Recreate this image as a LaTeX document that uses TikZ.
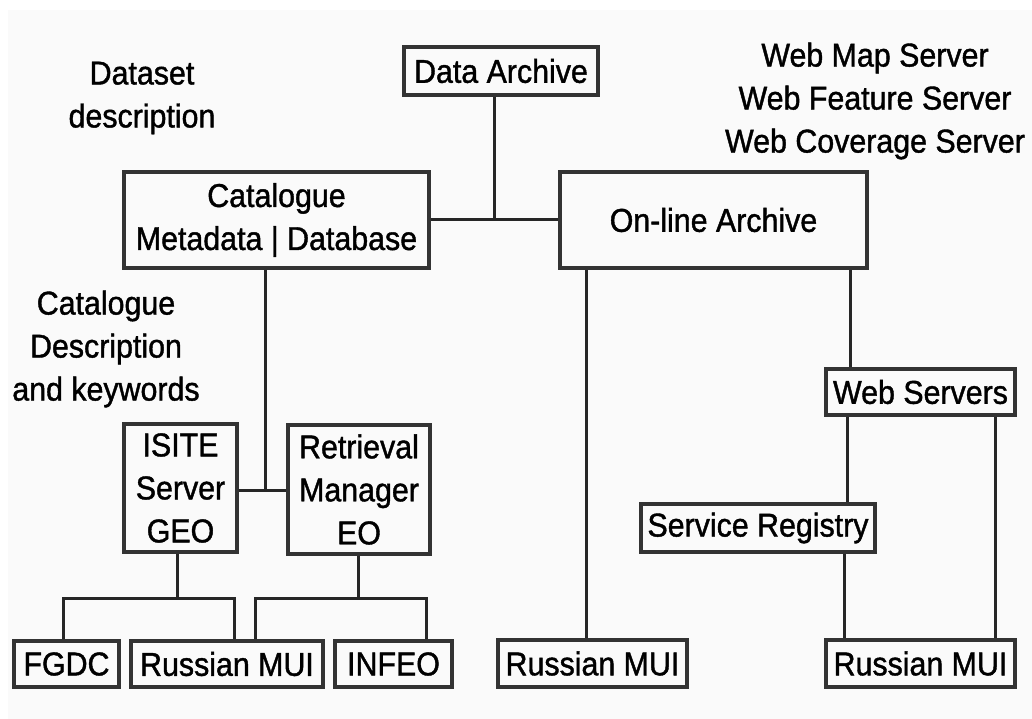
\documentclass[tikz,border=0pt]{standalone}
\usepackage{fontspec}
\setmainfont{Liberation Sans}[FakeStretch=0.92, FakeBold=1.2]
\newcommand\lbl{\fontsize{33}{43}\selectfont}
\tikzset{
  box/.style={draw=black!80, line width=3.5pt, inner sep=0pt, align=center, font=\lbl},
  lab/.style={inner sep=0pt, align=center, font=\lbl},
  conn/.style={draw=black!85, line width=3pt}
}
\begin{document}
\begin{tikzpicture}[x=1pt,y=-1pt]
\useasboundingbox (0,0) rectangle (1032,719);
\fill[white] (0,0) rectangle (1032,719);
\fill[black!2] (8,10) rectangle (1032,719);

% labels
\node[lab] (ds) at (142,98) {Dataset\\description};
\node[lab] (cd) at (106,349) {Catalogue\\Description\\and keywords};
\node[lab] (web) at (875,101) {Web Map Server\\Web Feature Server\\Web Coverage Server};

% boxes
\node[box, minimum width=194, minimum height=48] (da) at (501,71) {Data Archive};
\node[box, minimum width=305, minimum height=96] (cat) at (276.5,220) {Catalogue\\Metadata | Database};
\node[box, minimum width=307, minimum height=96] (ola) at (713.5,220) {On-line Archive};
\node[box, minimum width=113, minimum height=128] (isite) at (180.5,488) {ISITE\\Server\\GEO};
\node[box, minimum width=142, minimum height=129] (ret) at (359,489.5) {Retrieval\\Manager\\EO};
\node[box, minimum width=105, minimum height=46] (fgdc) at (66.5,664) {FGDC};
\node[box, minimum width=192, minimum height=46] (rm1) at (227,664) {Russian MUI};
\node[box, minimum width=117, minimum height=46] (infeo) at (393.5,664) {INFEO};
\node[box, minimum width=189, minimum height=47] (rm2) at (592.5,663.5) {Russian MUI};
\node[box, minimum width=189, minimum height=46] (ws) at (920.5,392) {Web Servers};
\node[box, minimum width=234, minimum height=48] (sr) at (758,528) {Service Registry};
\node[box, minimum width=189, minimum height=47] (rm3) at (920.5,663.5) {Russian MUI};

% junction coordinates
\coordinate (j1) at (494,220);
\coordinate (j2) at (265,490);
\coordinate (b1) at (177,598);
\coordinate (b2) at (358,598);

% connectors
\draw[conn] (cat.east) -- (ola.west);
\draw[conn] (da.south -| j1) -- (j1);
\draw[conn] (cat.south -| j2) -- (j2);
\draw[conn] (isite.east |- j2) -- (ret.west |- j2);
\draw[conn] (isite.south -| b1) -- (b1);
\draw[conn] (fgdc.north -| 63,0) |- (b1) -| (rm1.north -| 234,0);
\draw[conn] (ret.south -| b2) -- (b2);
\draw[conn] (rm1.north -| 255,0) |- (b2) -| (infeo.north -| 426,0);
\draw[conn] (ola.south -| 586,0) -- (rm2.north -| 586,0);
\draw[conn] (ola.south -| 850,0) -- (ws.north -| 850,0);
\draw[conn] (ws.south -| 847,0) -- (sr.north -| 847,0);
\draw[conn] (ws.south -| 995,0) -- (rm3.north -| 995,0);
\draw[conn] (sr.south -| 844,0) -- (rm3.north -| 844,0);
\end{tikzpicture}
\end{document}
